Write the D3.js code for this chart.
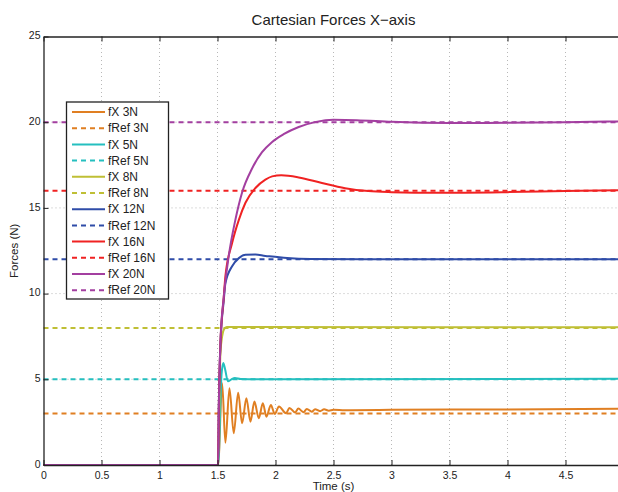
<!DOCTYPE html>
<html>
<head>
<meta charset="utf-8">
<script src="https://cdn.jsdelivr.net/npm/d3@7"></script>
<style>
  body { margin: 0; background: #fff; }
  svg { font-family: "Liberation Sans", Arial, sans-serif; }
  .tick text { font-size: 10.5px; fill: #222; }
</style>
</head>
<body>
<script>
// Reference forces (N) and series labels
var refValues = [3, 5, 8, 12, 16, 20];
var seriesNames = ['3N', '5N', '8N', '12N', '16N', '20N'];
var seriesColors = ['#e07f22', '#25bfbf', '#bfbf35', '#2f4ca8', '#f02222', '#a33fa0'];

// Measured fX responses, [time (s), force (N)]
var fX3 = [[0, 0], [1.505, 0], [1.540, 4.77], [1.568, 1.3], [1.603, 4.48], [1.640, 1.85],
  [1.678, 4.22], [1.712, 2.43], [1.749, 3.9], [1.784, 2.53], [1.818, 3.7], [1.856, 2.73],
  [1.891, 3.6], [1.922, 2.82], [1.960, 3.5], [1.994, 2.98], [2.03, 3.42], [2.091, 3.02],
  [2.120, 3.33], [2.169, 3.06], [2.197, 3.29], [2.241, 3.08], [2.270, 3.27], [2.313, 3.11],
  [2.341, 3.25], [2.384, 3.14], [2.419, 3.25], [2.46, 3.17], [2.5, 3.22], [2.6, 3.2],
  [3.0, 3.22], [4.0, 3.24], [5.0, 3.28]];
var fX5 = [[0, 0], [1.505, 0], [1.535, 5.3], [1.55, 5.95], [1.565, 5.6], [1.59, 4.88],
  [1.62, 5.0], [1.65, 5.08], [1.7, 5.02], [2.0, 5.0], [5.0, 5.03]];
var fX8 = [[0, 0], [1.505, 0], [1.525, 6.5], [1.54, 7.5], [1.555, 7.9], [1.58, 8.05],
  [1.65, 8.05], [5.0, 8.03]];
var fX12 = [[0, 0], [1.505, 0], [1.511, 3.2], [1.525, 7.0], [1.554, 9.6], [1.568, 10.6],
  [1.626, 11.6], [1.684, 12.07], [1.741, 12.27], [1.827, 12.28], [1.913, 12.2],
  [1.971, 12.17], [2.1, 12.08], [2.3, 12.02], [3.0, 12.0], [5.0, 12.0]];
var fX16 = [[0, 0], [1.505, 0], [1.511, 3.2], [1.525, 7.0], [1.554, 9.8], [1.568, 11.0],
  [1.626, 12.95], [1.684, 14.3], [1.741, 15.3], [1.827, 16.16], [1.913, 16.65],
  [1.971, 16.84], [2.05, 16.9], [2.2, 16.78], [2.4, 16.45], [2.6, 16.15], [2.8, 15.98],
  [3.0, 15.92], [3.4, 15.88], [4.0, 15.92], [4.5, 15.98], [5.0, 16.03]];
var fX20 = [[0, 0], [1.505, 0], [1.511, 3.2], [1.525, 7.1], [1.554, 9.8], [1.597, 12.2],
  [1.654, 14.3], [1.712, 15.9], [1.798, 17.3], [1.884, 18.25], [1.971, 18.85], [2.07, 19.3],
  [2.2, 19.72], [2.35, 20.02], [2.5, 20.14], [2.7, 20.12], [3.0, 20.02], [3.5, 19.95],
  [4.0, 19.97], [4.5, 20.0], [5.0, 20.05]];
var fXSeries = [fX3, fX5, fX8, fX12, fX16, fX20];

// Axis ticks
var xTicks = [0, 0.5, 1, 1.5, 2, 2.5, 3, 3.5, 4, 4.5];
var yTicks = [0, 5, 10, 15, 20, 25];

var width = 618, height = 492;
var margin = {top: 36.5, left: 43.5};
var plotW = 580, plotH = 428.5;

var svg = d3.select(document.body).append('svg')
  .attr('width', width).attr('height', height);

var x = d3.scaleLinear().domain([0, 5]).range([margin.left, margin.left + plotW]);
var y = d3.scaleLinear().domain([0, 25]).range([margin.top + plotH, margin.top]);

// Dotted grid
var grid = svg.append('g').attr('class', 'grid');
grid.selectAll('.gx').data(xTicks.filter(function(d) { return d > 0; }))
  .enter().append('line')
  .attr('x1', function(d) { return x(d); }).attr('x2', function(d) { return x(d); })
  .attr('y1', y(0)).attr('y2', y(25))
  .attr('stroke', '#b8b8b8').attr('stroke-width', 1).attr('stroke-dasharray', '1,3');
grid.selectAll('.gy').data(yTicks.filter(function(d) { return d > 0 && d < 25; }))
  .enter().append('line')
  .attr('y1', function(d) { return y(d); }).attr('y2', function(d) { return y(d); })
  .attr('x1', x(0)).attr('x2', x(5))
  .attr('stroke', '#b8b8b8').attr('stroke-width', 1).attr('stroke-dasharray', '1,3');

// Curves
var line = d3.line()
  .x(function(d) { return x(d[0]); })
  .y(function(d) { return y(d[1]); })
  .curve(d3.curveMonotoneX);

var curves = svg.append('g').attr('class', 'curves');
fXSeries.forEach(function(s, i) {
  curves.append('path')
    .datum(s)
    .attr('d', line)
    .attr('fill', 'none')
    .attr('stroke', seriesColors[i])
    .attr('stroke-width', 2)
    .attr('stroke-linejoin', 'round');
  curves.append('line')
    .attr('x1', x(0)).attr('x2', x(5))
    .attr('y1', y(refValues[i])).attr('y2', y(refValues[i]))
    .attr('stroke', seriesColors[i])
    .attr('stroke-width', 2)
    .attr('stroke-dasharray', '5,4');
});

// Axes with inward ticks
var fmt = d3.format('~g');
var xAxis = svg.append('g')
  .attr('transform', 'translate(0,' + y(0) + ')')
  .call(d3.axisBottom(x).tickValues(xTicks).tickFormat(fmt).tickSizeInner(-5).tickSizeOuter(0).tickPadding(8));
var xAxisTop = svg.append('g')
  .attr('transform', 'translate(0,' + y(25) + ')')
  .call(d3.axisTop(x).tickValues(xTicks).tickSizeInner(-5).tickSizeOuter(0).tickFormat(''));
var yAxis = svg.append('g')
  .attr('transform', 'translate(' + x(0) + ',0)')
  .call(d3.axisLeft(y).tickValues(yTicks).tickFormat(fmt).tickSizeInner(-5).tickSizeOuter(0).tickPadding(3));
[xAxis, xAxisTop, yAxis].forEach(function(a) {
  a.select('.domain').attr('stroke', '#222').attr('stroke-width', 1.3);
  a.selectAll('.tick line').attr('stroke', '#222');
});
xAxis.selectAll('.tick text').attr('dy', '0.55em');
yAxis.selectAll('.tick text').attr('dy', '0.2em');

// Titles
svg.append('text')
  .attr('x', x(2.5)).attr('y', 25)
  .attr('text-anchor', 'middle')
  .style('font-size', '15px').attr('fill', '#222')
  .text('Cartesian Forces X\u2212axis');
svg.append('text')
  .attr('x', x(2.5)).attr('y', 490)
  .attr('text-anchor', 'middle')
  .style('font-size', '11.5px').attr('fill', '#222')
  .text('Time (s)');
svg.append('text')
  .attr('transform', 'translate(18,' + y(12.5) + ') rotate(-90)')
  .attr('text-anchor', 'middle')
  .style('font-size', '11.5px').attr('fill', '#222')
  .text('Forces (N)');

// Legend
var legend = svg.append('g').attr('class', 'legend');
legend.append('rect')
  .attr('x', 66.5).attr('y', 102).attr('width', 102).attr('height', 197)
  .attr('fill', '#fff').attr('stroke', '#222').attr('stroke-width', 1.3);
var legendItems = [];
seriesNames.forEach(function(n, i) {
  legendItems.push({label: 'fX ' + n, color: seriesColors[i], dash: null});
  legendItems.push({label: 'fRef ' + n, color: seriesColors[i], dash: '5,4'});
});
var items = legend.selectAll('.item').data(legendItems).enter().append('g')
  .attr('transform', function(d, i) { return 'translate(0,' + (112 + i * 16.2) + ')'; });
items.append('line')
  .attr('x1', 72).attr('x2', 105)
  .attr('stroke', function(d) { return d.color; })
  .attr('stroke-width', 2)
  .attr('stroke-dasharray', function(d) { return d.dash; });
items.append('text')
  .attr('x', 108).attr('y', 4.2)
  .style('font-size', '12px').attr('fill', '#222')
  .text(function(d) { return d.label; });
</script>
</body>
</html>
